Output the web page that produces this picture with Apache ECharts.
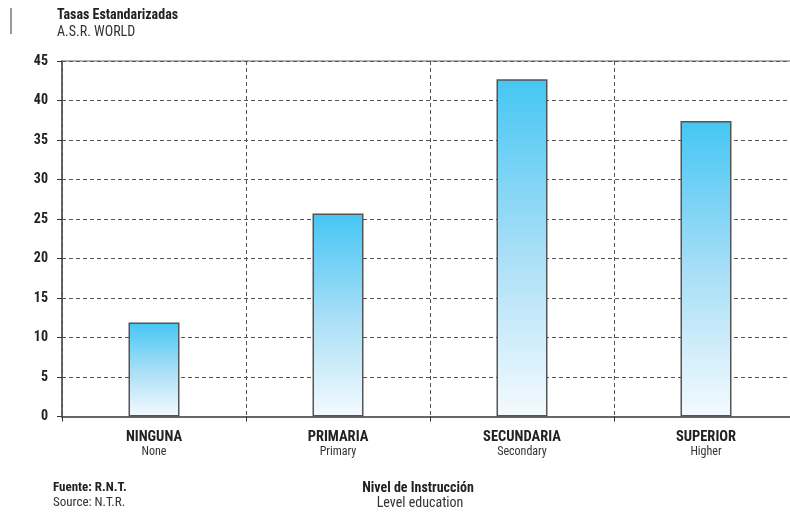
<!DOCTYPE html>
<html>
<head>
<meta charset="utf-8">
<script src="https://cdn.jsdelivr.net/npm/echarts@6/dist/echarts.min.js"></script>
<style>
  html, body { margin: 0; padding: 0; background: #fff; }
  #chart { width: 790px; height: 515px; }
</style>
</head>
<body>
<div id="chart"></div>
<script>
// Education level categories (Spanish / English)
const categoriesEs = ['NINGUNA', 'PRIMARIA', 'SECUNDARIA', 'SUPERIOR'];
const categoriesEn = ['None', 'Primary', 'Secondary', 'Higher'];
// Age-standardised rates (A.S.R. World)
const rates = [11.9, 25.7, 42.7, 37.4];
// Value axis ticks
const yMin = 0, yMax = 45, yStep = 5;

const FONT = '"Liberation Sans Narrow", "Roboto Condensed", Roboto, sans-serif';
const GRID_LINE = { color: '#555', width: 1, type: [4, 3] };

const chart = echarts.init(document.getElementById('chart'), null, { renderer: 'canvas' });

chart.setOption({
  backgroundColor: '#fff',
  animation: false,
  textStyle: { fontFamily: FONT },
  grid: {
    left: 62, top: 61, width: 736, height: 355.5,
    containLabel: false,
    outerBoundsMode: 'none',
    show: true, borderColor: '#666', borderWidth: 1.2, backgroundColor: 'transparent'
  },
  xAxis: {
    type: 'category',
    data: categoriesEs.map((c, i) => c + '\n' + categoriesEn[i]),
    boundaryGap: true,
    axisLine: { show: true, lineStyle: { color: '#666', width: 2 } },
    axisTick: { show: true, alignWithLabel: false, length: 5, lineStyle: { color: '#333', width: 1 } },
    splitLine: { show: true, lineStyle: GRID_LINE },
    axisLabel: {
      margin: 13,
      formatter: v => {
        const [es, en] = v.split('\n');
        return '{es|' + es + '}\n{en|' + en + '}';
      },
      rich: {
        es: { fontFamily: FONT, fontWeight: 'bold', fontSize: 14.5, color: '#222', lineHeight: 15 },
        en: { fontFamily: FONT, fontSize: 12, color: '#333', lineHeight: 14 }
      }
    }
  },
  yAxis: {
    type: 'value',
    min: yMin, max: yMax, interval: yStep,
    axisLine: { show: true, lineStyle: { color: '#555', width: 1.5 } },
    axisTick: { show: true, length: 5, lineStyle: { color: '#333', width: 1 } },
    splitLine: { show: true, lineStyle: GRID_LINE },
    axisLabel: {
      margin: 14,
      fontFamily: FONT, fontWeight: 'bold', fontSize: 14, color: '#222'
    }
  },
  series: [{
    type: 'bar',
    data: rates,
    barWidth: 51,
    itemStyle: {
      borderColor: '#555',
      borderWidth: 1.5,
      color: new echarts.graphic.LinearGradient(0, 0, 0, 1, [
        { offset: 0, color: '#45C6F4' },
        { offset: 0.5, color: '#A6DEF6' },
        { offset: 1, color: '#F4FAFE' }
      ])
    }
  }],
  graphic: [
    { type: 'rect', left: 10, top: 8, shape: { width: 2, height: 26 }, style: { fill: '#999' } },
    { type: 'text', x: 57, y: 15, style: { text: 'Tasas Estandarizadas', verticalAlign: 'middle', fontFamily: FONT, fontWeight: 'bold', fontSize: 14, fill: '#222' } },
    { type: 'text', x: 57, y: 32, style: { text: 'A.S.R. WORLD', verticalAlign: 'middle', fontFamily: FONT, fontSize: 14, fill: '#333' } },
    { type: 'text', x: 53, y: 488, style: { text: 'Fuente: R.N.T.', verticalAlign: 'middle', fontFamily: FONT, fontWeight: 'bold', fontSize: 13, fill: '#222' } },
    { type: 'text', x: 53, y: 503, style: { text: 'Source: N.T.R.', verticalAlign: 'middle', fontFamily: FONT, fontSize: 13, fill: '#333' } },
    { type: 'text', x: 418, y: 488, style: { text: 'Nivel de Instrucción', align: 'center', verticalAlign: 'middle', fontFamily: FONT, fontWeight: 'bold', fontSize: 14, fill: '#222' } },
    { type: 'text', x: 420, y: 503, style: { text: 'Level education', align: 'center', verticalAlign: 'middle', fontFamily: FONT, fontSize: 14, fill: '#333' } }
  ]
});
</script>
</body>
</html>
